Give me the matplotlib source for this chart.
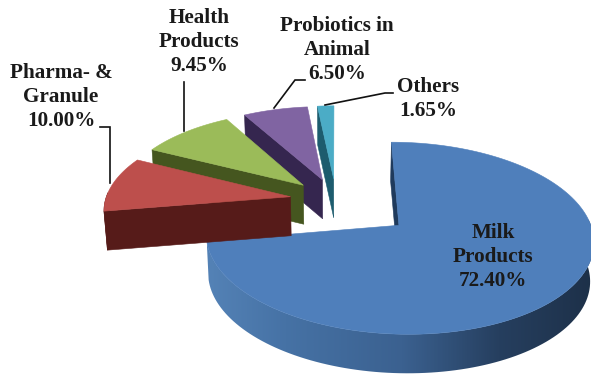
import numpy as np
import matplotlib
matplotlib.use("Agg")
import matplotlib.pyplot as plt
from matplotlib.colors import LinearSegmentedColormap
from matplotlib.patches import Polygon

categories = ["Milk\nProducts", "Pharma- &\nGranule", "Health\nProducts",
              "Probiotics in\nAnimal", "Others"]
shares = [72.40, 10.00, 9.45, 6.50, 1.65]
explode = [0.43, 0.25, 0.25, 0.25, 0.25]
top_colors = ["#4f7fbb", "#bd4f4c", "#9bbb59", "#8064a2", "#4bacc6"]
side_colors = ["#4a76ab", "#561b19", "#45561f", "#35264f", "#1d5c6e"]

# Perspective projection of the pie's ground plane, in figure pixels
CX, CY, AX, AY, K = 336.0, 200.0, 185.0, 87.6, 0.13
DEPTH, SHRINK = 39.0, 0.985


def project(u, v, lower=False):
    w = 1 + K * v
    x = CX + AX * u / w
    y = CY - AY * v / w
    if lower:
        x = CX + (x - CX) * SHRINK
        y = y + DEPTH
    return np.column_stack([x, y])


fig = plt.figure(figsize=(5.91, 3.74), dpi=100)
ax = fig.add_axes([0, 0, 1, 1])
ax.set_xlim(0, 591)
ax.set_ylim(374, 0)
ax.axis("off")

fractions = np.array(shares) / sum(shares)
ends = np.cumsum(fractions) * 2 * np.pi
starts = ends - fractions * 2 * np.pi


def wedge_geometry(i):
    mid = (starts[i] + ends[i]) / 2
    ou, ov = explode[i] * np.sin(mid), explode[i] * np.cos(mid)
    th = np.linspace(starts[i], ends[i], 160)
    return ou, ov, th


def wall(ua, va, ub, vb, color, z):
    upper = project(np.array([ua, ub]), np.array([va, vb]))
    lower = project(np.array([ub, ua]), np.array([vb, va]), lower=True)
    ax.add_patch(Polygon(np.vstack([upper, lower]), closed=True, fc=color,
                         ec=color, lw=0.4, zorder=z))


# Largest slice: cut wall, rim with a left-to-right shading ramp, then top face
ou, ov, th = wedge_geometry(0)
u, v = ou + np.sin(th), ov + np.cos(th)
wall(ou, ov, u[0], v[0], "#1f3a5c", 1)

rim = th[th > np.radians(60)]
rim_upper = project(ou + np.sin(rim), ov + np.cos(rim))
rim_lower = project(ou + np.sin(rim[::-1]), ov + np.cos(rim[::-1]), lower=True)
rim_patch = Polygon(np.vstack([rim_upper, rim_lower]), closed=True, fc="none", ec="none", zorder=2)
ax.add_patch(rim_patch)
rim_map = LinearSegmentedColormap.from_list(
    "rim", [(0.0, "#5482b6"), (0.2, "#4672a5"), (0.5, "#3b6190"),
            (0.75, "#263f5f"), (1.0, "#1d3048")])
ramp = ax.imshow(np.linspace(0, 1, 400)[None, :], cmap=rim_map, aspect="auto",
                 extent=(207, 597, 380, 220), zorder=2, interpolation="bilinear")
ramp.set_clip_path(rim_patch)
ax.set_xlim(0, 591)
ax.set_ylim(374, 0)

pts = project(np.r_[ou, u], np.r_[ov, v])
ax.add_patch(Polygon(pts, closed=True, fc=top_colors[0], ec=top_colors[0], lw=0.4, zorder=3))

# Exploded slices, painted from the back towards the viewer
for i in [4, 3, 2, 1]:
    z = 10 + (4 - i) * 3
    ou, ov, th = wedge_geometry(i)
    u, v = ou + np.sin(th), ov + np.cos(th)
    wall(ou, ov, u[0], v[0], side_colors[i], z)
    front = np.where(np.cos(th) < 0.05)[0]
    if len(front) > 1:
        upper = project(u[front], v[front])
        lower = project(u[front][::-1], v[front][::-1], lower=True)
        ax.add_patch(Polygon(np.vstack([upper, lower]), closed=True, fc=side_colors[i],
                             ec=side_colors[i], lw=0.4, zorder=z))
    pts = project(np.r_[ou, u], np.r_[ov, v])
    ax.add_patch(Polygon(pts, closed=True, fc=top_colors[i], ec=top_colors[i], lw=0.4, zorder=z + 1))

# Leader lines from the slices to their labels
leaders = [
    ([110, 110, 100], [183, 127, 127]),
    ([183.5, 183.5], [131, 82]),
    ([274, 295, 305], [108, 80, 80]),
    ([325, 385, 393], [105, 93, 93]),
]
for lx, ly in leaders:
    ax.plot(lx, ly, color="#111111", lw=1.2, solid_joinstyle="miter", zorder=30)

# Slice labels
label_pos = [(493, 257), (61, 97), (199, 42), (337, 50), (428, 99)]
for name, share, (x, y) in zip(categories, shares, label_pos):
    ax.text(x, y, f"{name}\n{share:.2f}%", ha="center", va="center", multialignment="center",
            family="Liberation Serif", weight="bold", size=15.2, color="#1a1a1a",
            linespacing=1.26, zorder=40)

fig.savefig("out.png", dpi=100)
